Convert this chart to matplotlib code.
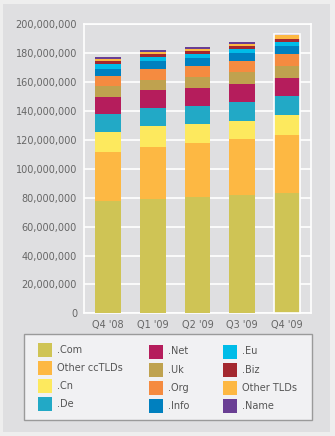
import matplotlib.pyplot as plt
from matplotlib.patches import Rectangle
import numpy as np

# quarters and domain counts (millions), stacked bottom to top
quarters = ["Q4 '08", "Q1 '09", "Q2 '09", "Q3 '09", "Q4 '09"]
com = [77.7, 79.1, 80.5, 81.9, 83.3]
other_cctlds = [34.0, 36.0, 37.4, 38.8, 40.2]
cn = [13.8, 14.6, 13.1, 12.4, 13.8]
de = [12.7, 12.4, 12.5, 13.2, 13.1]
net = [11.5, 12.5, 12.5, 12.5, 12.5]
uk = [7.9, 6.9, 7.6, 8.5, 8.3]
org = [6.7, 7.6, 7.6, 7.4, 8.3]
info = [4.8, 5.6, 5.5, 5.5, 5.5]
eu = [3.7, 2.7, 2.8, 2.8, 2.8]
biz = [1.9, 2.1, 2.1, 2.0, 2.1]
other_tlds = [1.3, 1.4, 1.4, 1.4, 2.8]
name = [1.4, 1.6, 1.4, 1.4, 0.4]

series = [
    (".Com", com, "#cfc455"),
    ("Other ccTLDs", other_cctlds, "#fdb843"),
    (".Cn", cn, "#fde95e"),
    (".De", de, "#22a9c6"),
    (".Net", net, "#b51d5c"),
    (".Uk", uk, "#bfa24f"),
    (".Org", org, "#f58b40"),
    (".Info", info, "#0080bf"),
    (".Eu", eu, "#00bce8"),
    (".Biz", biz, "#a3282f"),
    ("Other TLDs", other_tlds, "#fdb843"),
    (".Name", name, "#6a3f94"),
]

bg = "#dfdfe1"
text_col = "#666666"

fig = plt.figure(figsize=(3.35, 4.36), dpi=100, facecolor="#eeeeee")
fig.patches.append(Rectangle((3 / 335, 4 / 436), 327 / 335, 428 / 436,
                             transform=fig.transFigure, facecolor=bg,
                             edgecolor="none", zorder=-5))

ax = fig.add_axes([84 / 335, 1 - 313.3 / 436, 227 / 335, 289 / 436])
ax.set_facecolor(bg)

x = np.arange(len(quarters))
bottom = np.zeros(len(quarters))
for label, vals, color in series:
    v = np.array(vals) * 1e6
    ax.bar(x, v, width=0.58, bottom=bottom, color=color, zorder=3)
    bottom += v

# highlight latest quarter
ax.bar(x[-1], bottom[-1], width=0.58, fill=False, edgecolor="white",
       linewidth=1.2, zorder=4, clip_on=False)

ax.set_xlim(-0.536, 4.536)
ax.set_ylim(0, 200e6)
ax.set_yticks(np.arange(0, 200e6 + 1, 20e6))
ax.set_yticklabels([f"{int(t):,}" for t in np.arange(0, 200e6 + 1, 20e6)])
ax.set_xticks(x)
ax.set_xticklabels(quarters)
ax.tick_params(length=0, labelsize=7, colors=text_col, pad=5)
ax.yaxis.grid(True, color="white", linewidth=1.2, zorder=1)
ax.set_axisbelow(True)
for s in ax.spines.values():
    s.set_color("white")
    s.set_linewidth(1.2)

# legend box
fig.patches.append(Rectangle((24 / 335, 1 - 420 / 436), 288 / 335, 86 / 436,
                             transform=fig.transFigure, facecolor="#f1f1f3",
                             edgecolor="#9a9a9a", linewidth=1, zorder=1))
col_x = [38, 149, 223]
for i, (label, vals, color) in enumerate(series):
    c, r = divmod(i, 4)
    top = 343 + 18 * r + (0 if c == 0 else 1.5)
    fig.patches.append(Rectangle((col_x[c] / 335, 1 - (top + 14) / 436),
                                 14 / 335, 14 / 436, transform=fig.transFigure,
                                 facecolor=color, edgecolor="none", zorder=2))
    fig.text((col_x[c] + 19) / 335, 1 - (top + 7) / 436, label,
             fontsize=7, color="#555555", va="center", ha="left")

fig.savefig("out.png", dpi=100, facecolor=fig.get_facecolor())
